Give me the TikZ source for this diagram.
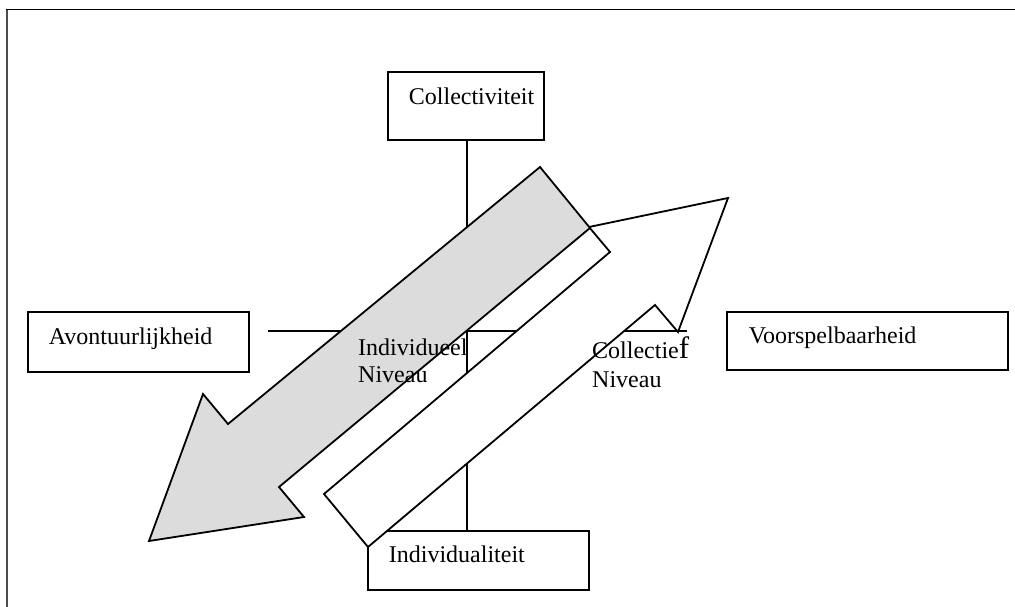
\documentclass[tikz,border=0pt]{standalone}
\usepackage{fontspec}
\setmainfont{Liberation Serif}
\definecolor{pijlgrijs}{RGB}{220,220,220}
\tikzset{
  vak/.style={draw, line width=1.8pt, fill=white, anchor=north west, inner xsep=0pt, inner ysep=0pt, align=left, text height=33pt, text depth=27pt, font=\fontsize{24}{27}\selectfont},
  as/.style={line width=1.8pt},
  pijl/.style={draw, line width=1.8pt, line join=miter},
  tekst/.style={inner sep=0pt, align=left, font=\fontsize{24}{27}\selectfont}
}
\begin{document}
\begin{tikzpicture}[x=1pt, y=-1pt]
\useasboundingbox (0,0) rectangle (1015,607);
\draw[line width=2pt, black!70] (6.5,607) -- (6.5,9.5);
\draw[line width=1.8pt] (6,9.5) -- (1015,9.5);
\node[vak, text width=156pt, text depth=35pt] (coll) at (387,71) {\hspace*{21pt}Collectiviteit};
\node[vak, text width=221pt] (avon) at (27,311) {\hspace*{21pt}Avontuurlijkheid};
\node[vak, text width=281pt, text height=32pt, text depth=26pt] (voor) at (726,311) {\hspace*{22pt}Voorspelbaarheid};
\node[vak, text width=221pt, text height=32pt] (indi) at (367,530) {\hspace*{21pt}Individualiteit};
\coordinate (links) at (268,331);
\coordinate (rechts) at (687,331);
\draw[as] (coll.south -| 467,0) -- (indi.north -| 467,0);
\draw[as] (links) -- (rechts);
\draw[pijl, fill=white] (324,494) -- (610,252) -- (589,227) -- (728,198) -- (678,332) -- (655,305) -- (368,547) -- cycle;
\draw[pijl, fill=pijlgrijs] (540,167) -- (590,228) -- (279,487) -- (304,517) -- (149,541) -- (203,394) -- (228,424) -- cycle;
\node[tekst, anchor=base west] (indniv) at (358,382) {Individueel\\Niveau};
\node[tekst, anchor=base west] (colniv) at (592,387) {Collectie{\fontsize{31}{26}\selectfont f}\\[2pt]Niveau};
\end{tikzpicture}
\end{document}
